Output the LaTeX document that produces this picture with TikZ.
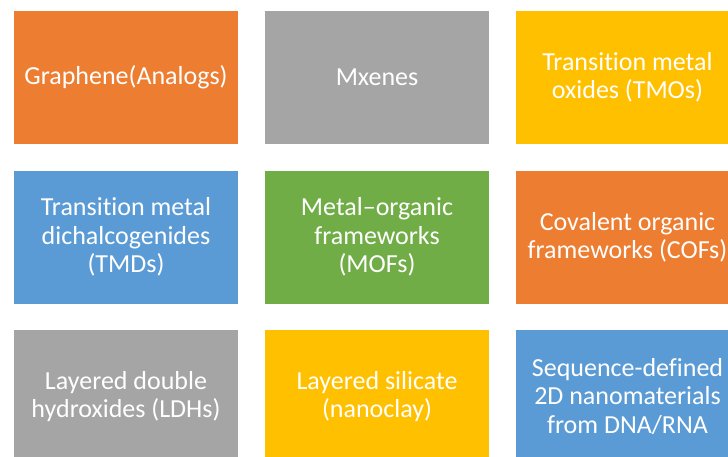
\documentclass[tikz,border=0pt]{standalone}
\usepackage{fontspec}
\setmainfont{Carlito}[Ligatures=NoCommon]
\definecolor{cOrange}{HTML}{ED7D31}
\definecolor{cGray}{HTML}{A5A5A5}
\definecolor{cYellow}{HTML}{FFC000}
\definecolor{cBlue}{HTML}{5B9BD5}
\definecolor{cGreen}{HTML}{70AD47}
\begin{document}
\begin{tikzpicture}[x=1pt,y=-1pt,
  tile/.style={draw=white, line width=0.6pt, minimum width=225pt, minimum height=134pt,
    inner sep=0pt, outer sep=0pt, anchor=north west, text=white, align=center,
    font=\fontsize{26}{28.3}\selectfont}]
\useasboundingbox (0,0) rectangle (728,457);
\fill[white] (0,0) rectangle (728,457);
\begin{scope}
\clip (0,0) rectangle (728,457);
\node[tile, fill=cOrange] (g) at (13.5,10) {Graphene(Analogs)};
\node[tile, fill=cGray] (mx) at (264.5,10) {Mxenes};
\node[tile, fill=cYellow] (tmo) at (515,10) {Transition metal\\oxides (TMOs)};
\node[tile, fill=cBlue] (tmd) at (13.5,170) {Transition metal\\dichalcogenides\\(TMDs)};
\node[tile, fill=cGreen] (mof) at (264.5,170) {Metal--organic\\frameworks\\(MOFs)};
\node[tile, fill=cOrange] (cof) at (515,170) {Covalent organic\\frameworks (COFs)};
\node[tile, fill=cGray] (ldh) at (13.5,329.5) {Layered double\\hydroxides (LDHs)};
\node[tile, fill=cYellow] (nc) at (264.5,329.5) {Layered silicate\\(nanoclay)};
\node[tile, fill=cBlue] (dna) at (515,329.5) {Sequence-defined\\2D nanomaterials\\from DNA/RNA};
\end{scope}
\end{tikzpicture}
\end{document}
